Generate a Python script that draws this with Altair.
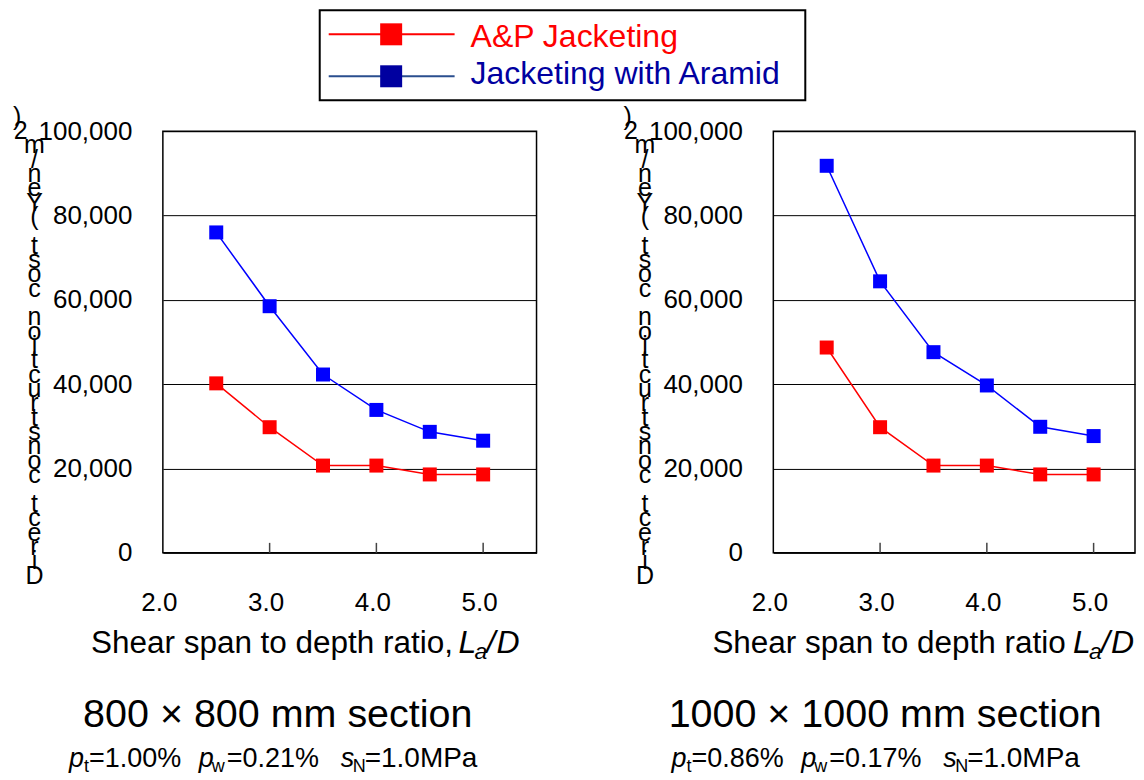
import altair as alt
import pandas as pd

# ---------------- data ----------------
series = ["A&P Jacketing", "Jacketing with Aramid"]
ratios = [2.5, 3.0, 3.5, 4.0, 4.5, 5.0]

left_ap = [40200, 29800, 20700, 20700, 18600, 18600]
left_ar = [76000, 58500, 42300, 33900, 28700, 26600]
right_ap = [48700, 29800, 20700, 20700, 18600, 18600]
right_ar = [91800, 64400, 47600, 39700, 29900, 27700]

x_ticks = [2.0, 3.0, 4.0, 5.0]
y_ticks = [0, 20000, 40000, 60000, 80000, 100000]
y_title = "Direct construction cost (Yen/m2)"

left_section = "800 \u00d7 800 mm section"
right_section = "1000 \u00d7 1000 mm section"
left_params = ["1.00%", "0.21%", "1.0MPa"]
right_params = ["0.86%", "0.17%", "1.0MPa"]

FONT = "Liberation Sans"
H = 422
PX_PER_UNIT = 374 / 3.5  # both panels share the same x scale factor
NB = "\u00a0"
ZW = "\u200b"
color_scale = alt.Scale(domain=series, range=["#FF0000", "#0000FF"])


def stacked_title(s):
    lines = []
    for ch in reversed(s):
        if ch == " ":
            lines.append(NB + ZW)
        elif ch == ")":
            lines.append(ch + NB * 5 + ZW)
        elif ch == "2":
            lines.append(ch + NB * 4 + ZW)
        else:
            lines.append(ch)
    return lines


def make_df(ap, ar):
    rows = []
    for s, vals in zip(series, [ap, ar]):
        for r, v in zip(ratios, vals):
            rows.append({"series": s, "ratio": r, "cost": v})
    return pd.DataFrame(rows)


def txt(t, x, y, size, italic=False, align="left", color="black"):
    return alt.Chart(pd.DataFrame({"t": [t]})).mark_text(
        text=t, align=align, baseline="alphabetic", fontSize=size, font=FONT,
        fontStyle="italic" if italic else "normal", color=color,
    ).encode(x=alt.value(x), y=alt.value(y))


def panel(ap, ar, width, comma, xt_x, lad_x, section, sec_x, params, sub_x, with_legend):
    df = make_df(ap, ar)
    x_max = 2.0 + width / PX_PER_UNIT
    x = alt.X("ratio:Q", scale=alt.Scale(domain=[2.0, x_max], nice=False, zero=False),
              axis=alt.Axis(values=x_ticks, format=".1f", title=None, ticks=False,
                            domain=False, grid=False, labelFontSize=26, labelPadding=37,
                            labelOffset=-4, labelFont=FONT, labelColor="black",
                            labelFlush=False))
    y = alt.Y("cost:Q", scale=alt.Scale(domain=[0, 100000], nice=False),
              axis=alt.Axis(values=y_ticks, format=",d", ticks=False, domain=False,
                            grid=True, gridColor="black", gridWidth=1,
                            labelFontSize=26, labelPadding=31, labelFont=FONT,
                            labelColor="black",
                            title=stacked_title(y_title), titleAngle=0,
                            titleAlign="center", titleBaseline="top",
                            titleX=-129, titleY=-27, titleLineHeight=14.35,
                            titleFontSize=25, titleFontWeight="normal",
                            titleFont=FONT, titleColor="black"))
    color = alt.Color("series:N", scale=color_scale, legend=None)
    base = alt.Chart(df)
    lines = base.mark_line(strokeWidth=1.5).encode(x=x, y=y, color=color)
    pts = base.mark_square(size=196, filled=True, opacity=1).encode(x=x, y=y, color=color)
    inner_ticks = alt.Chart(pd.DataFrame({"ratio": x_ticks[1:]})).mark_rule(
        color="#444444", strokeWidth=1.5).encode(
        x="ratio:Q", y=alt.value(H), y2=alt.value(H - 10))

    layers = [lines, pts, inner_ticks]

    # x-axis title pieces
    main = "Shear span to depth ratio" + ("," if comma else "")
    layers += [
        txt(main, xt_x, 522, 31.5),
        txt("L", lad_x, 522, 32, italic=True),
        txt("a", lad_x + 16, 528, 23, italic=True),
        txt("/", lad_x + 28, 522, 32, italic=True),
        txt("D", lad_x + 38, 522, 32, italic=True),
    ]
    # section title
    layers.append(txt(section, sec_x, 596, 39.5, align="center"))
    # parameter line
    offs = [0, 15, 20, 130, 143, 158, 272, 284, 296]
    pieces = [("p", True, 27, 0), ("t", False, 18, 5), ("=" + params[0], False, 27, 0),
              ("p", True, 27, 0), ("w", False, 18, 5), ("=" + params[1], False, 27, 0),
              ("s", True, 27, 0), ("N", False, 18, 5), ("=" + params[2], False, 28, 0)]
    for (t, it, sz, dy), o in zip(pieces, offs):
        layers.append(txt(t, sub_x + o, 636 + dy, sz, italic=it))

    if with_legend:
        box = alt.Chart(pd.DataFrame({"b": [0]})).mark_rect(
            fill="white", stroke="black", strokeWidth=2).encode(
            x=alt.value(157), x2=alt.value(643), y=alt.value(-121), y2=alt.value(-31))
        layers.append(box)
        leg_line_cols = ["#FF0000", "#2A4E8E"]
        leg_sq_cols = ["#FF0000", "#0000A0"]
        leg_txt_cols = ["#FF0000", "#0000A0"]
        row_y = [-97, -55]
        txt_y = [-109, -72]
        for i, s in enumerate(series):
            one = alt.Chart(pd.DataFrame({"series": [s]}))
            layers.append(one.mark_rule(color=leg_line_cols[i], strokeWidth=2).encode(
                x=alt.value(166), x2=alt.value(292), y=alt.value(row_y[i])))
            layers.append(one.mark_square(size=484, filled=True, opacity=1,
                                          color=leg_sq_cols[i]).encode(
                x=alt.value(228.5), y=alt.value(row_y[i])))
            layers.append(one.mark_text(align="left", baseline="top",
                                        fontSize=32, font=FONT,
                                        color=leg_txt_cols[i]).encode(
                text="series:N", x=alt.value(308), y=alt.value(txt_y[i])))

    return alt.layer(*layers).properties(width=width, height=H)


left = panel(left_ap, left_ar, 374, True, -72, 296, left_section, 115, left_params, -94, True)
right = panel(right_ap, right_ar, 362, False, -61, 300, right_section, 112, right_params, -102, False)

chart = alt.hconcat(left, right, spacing=237, bounds="flush").properties(
    padding={"left": 3, "top": 0, "right": 0, "bottom": 0}
).configure_view(stroke="black", strokeWidth=1.5)

chart.save("out.html", embed_options={"renderer": "svg", "actions": False})
